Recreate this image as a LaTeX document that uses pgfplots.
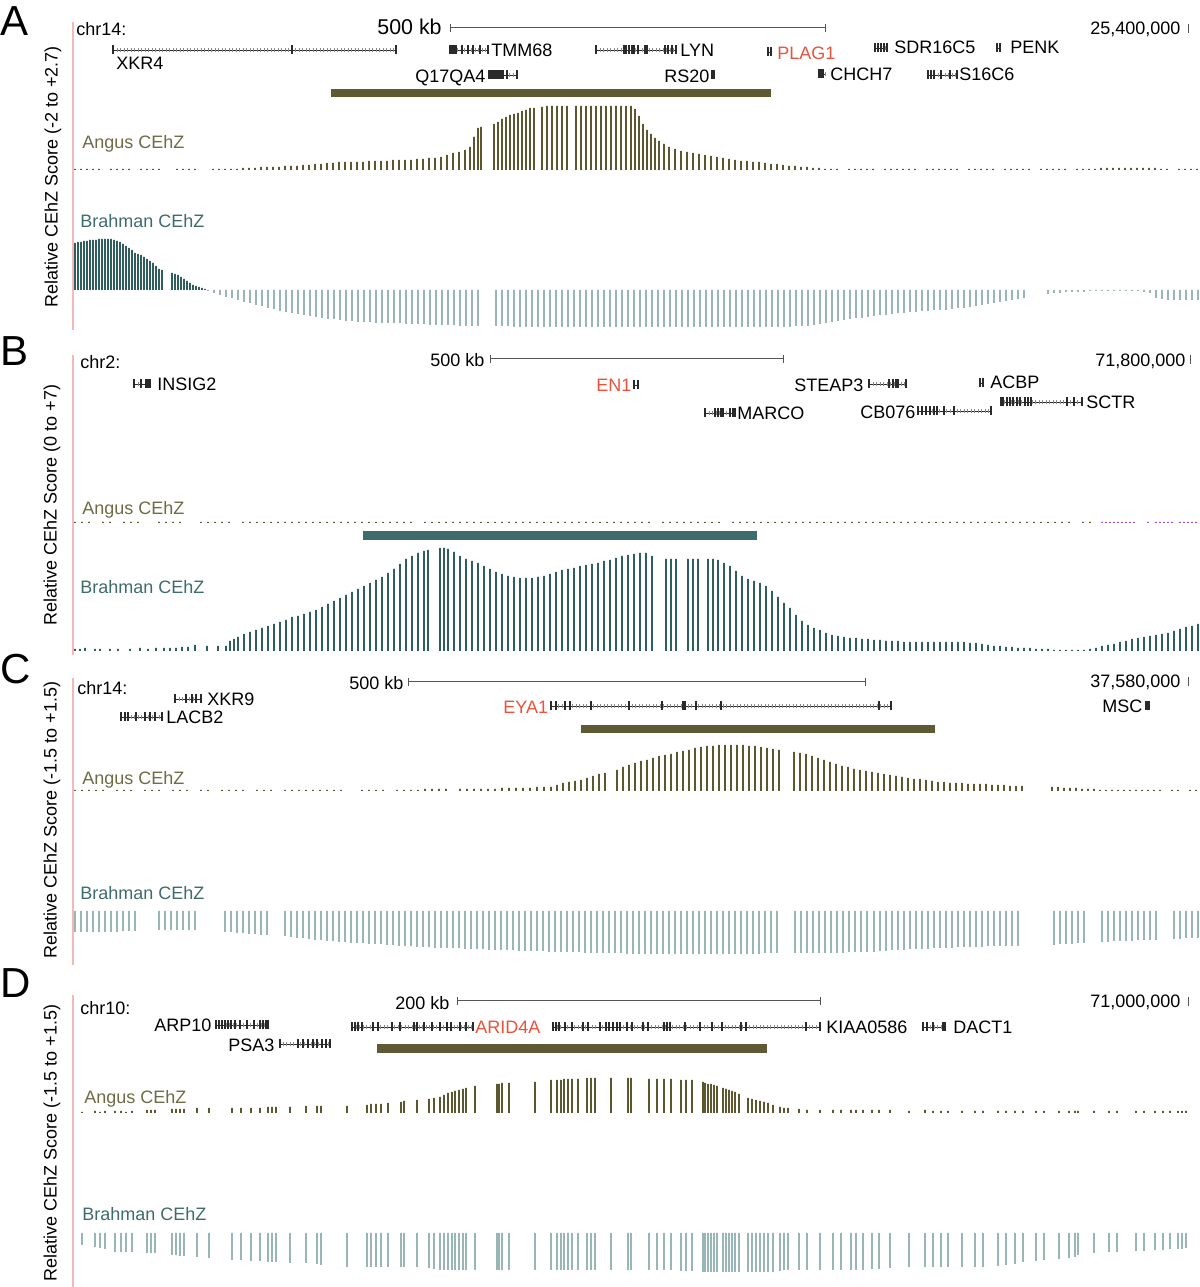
\documentclass[border=0pt]{standalone}
\usepackage{pgfplots}
\pgfplotsset{compat=1.18}
\usepackage{fontspec}
\setmainfont{Liberation Sans}
\definecolor{ang}{HTML}{5C572F}
\definecolor{angt}{HTML}{6E6B45}
\definecolor{angbar}{HTML}{5E5A33}
\definecolor{bra}{HTML}{3E6C6C}
\definecolor{brab}{HTML}{2F5E5E}
\definecolor{bral}{HTML}{98B6B6}
\definecolor{redt}{HTML}{E8533A}
\definecolor{pinkl}{HTML}{F5B8B8}
\definecolor{gc}{HTML}{2A2A2A}
\definecolor{purp}{HTML}{A050C0}
\pgfplotsset{
  trk/.style={at={(0pt,0pt)}, anchor=south west, scale only axis, width=600pt, height=643.5pt,
    xmin=0, xmax=1200, hide axis, clip=false},
  bars/.style={ybar, bar width=0.85pt, bar shift=0pt, draw=none, fill=#1}
}
\newcommand\fs{\fontsize{9pt}{10pt}\selectfont}
\newcommand\tx[4][]{\node[anchor=base west, inner sep=0pt, font=\fs, #1] at (#2,#3) {#4};}
\newcommand\gene[4]{%
  \draw[gc, line width=0.3pt] (#1,#3) -- (#2,#3);
  \draw[gc!55, line width=1.6pt, dash pattern=on 0.25pt off 1.5pt] (#1,#3) -- (#2,#3);
  \foreach \e in {#4} {\draw[gc, line width=0.6pt] (\e,#3-4.5) -- (\e,#3+4.5);}
}
\newcommand\scalebar[3]{\draw[gc!80, line width=0.5pt] (#1,#3) -- (#2,#3) (#1,#3-4) -- (#1,#3+4) (#2,#3-4) -- (#2,#3+4);}
\begin{document}
\begin{tikzpicture}
% ---------------- Panel A : Angus (baseline 170 px) ----------------
\begin{axis}[trk, ymin=-1117, ymax=170]
\addplot[bars=ang] coordinates {(75,1)(81,1)(87,1)(93,1)(99,1)(111,1)(117,1)(123,1)(129,1)(141,1)(147,1)(153,1)(159,1)(177,1)(183,1)(189,1)(195,1)(213,1)(219,1)(225,1)(231,1)(237,1)(243,2)(249,2)(255,2)(261,3)(267,3)(273,3)(279,3)(285,4)(291,4)(297,4)(303,5)(309,5)(315,6)(321,6)(327,7)(333,7)(339,8)(345,8)(351,8)(357,8)(363,8)(369,9)(375,9)(381,9)(387,9)(393,10)(399,10)(405,10)(411,10)(417,11)(423,11)(429,12)(435,12)(441,13)(447,15)(453,17)(459,18)(465,20)(470,23)(474,33)(478,42)(481,43)(494,46)(498,48)(502,51)(506,53)(510,55)(514,56)(518,57)(522,59)(526,60)(530,62)(534,62)(542,63)(547,64)(552,64)(557,64)(562,64)(567,64)(576,64)(581,64)(586,64)(591,64)(596,64)(601,64)(606,64)(611,64)(616,64)(621,64)(626,64)(631,64)(635,61)(639,54)(643,46)(647,40)(651,36)(655,32)(659,29)(664,26)(669,23)(675,21)(681,19)(687,18)(693,17)(699,16)(705,15)(711,14)(717,13)(723,12)(729,11)(735,10)(741,9)(747,9)(753,8)(759,8)(765,7)(771,6)(777,6)(783,5)(789,4)(795,4)(801,3)(807,3)(813,2)(819,2)(825,1)(831,1)(837,1)(849,1)(855,1)(861,1)(867,1)(873,1)(885,1)(891,1)(897,1)(903,1)(909,1)(915,1)(927,1)(933,1)(939,1)(945,1)(951,1)(957,1)(969,1)(975,1)(981,1)(987,1)(993,1)(1005,1)(1011,1)(1017,1)(1023,1)(1029,1)(1041,1)(1047,1)(1053,1)(1059,1)(1065,1)(1077,1)(1083,1)(1089,1)(1095,1)(1101,2)(1107,2)(1113,2)(1119,2)(1125,2)(1131,2)(1137,2)(1143,2)(1149,2)(1155,2)(1161,1)(1167,1)(1179,1)(1185,1)(1191,1)(1197,1)};
\end{axis}
% ---------------- Panel A : Brahman (baseline 290 px) ----------------
\begin{axis}[trk, ymin=-997, ymax=290]
\addplot[bars=brab] coordinates {(75,47)(78,48)(81,48)(84,49)(87,49)(90,50)(93,50)(96,50)(99,51)(102,51)(105,51)(108,51)(111,51)(114,50)(117,49)(120,48)(123,46)(126,44)(129,42)(132,40)(135,37)(138,36)(141,35)(144,33)(147,31)(150,29)(153,27)(156,24)(159,21)(162,20)(172,17)(175,16)(178,15)(181,13)(184,11)(187,9)(190,7)(193,5)(196,4)(199,3)(202,2)(205,1)};
\addplot[bars=bral] coordinates {(208,-1)(214,-3)(220,-5)(226,-7)(232,-8)(238,-10)(244,-12)(250,-13)(256,-15)(262,-16)(268,-18)(274,-19)(280,-21)(286,-22)(292,-23)(298,-24)(304,-25)(310,-26)(316,-27)(322,-28)(328,-29)(334,-29)(340,-30)(346,-31)(352,-31)(358,-32)(364,-32)(370,-32)(376,-33)(382,-33)(388,-33)(394,-33)(400,-33)(406,-34)(412,-34)(418,-34)(424,-34)(430,-35)(436,-35)(442,-35)(448,-35)(454,-35)(460,-36)(466,-36)(472,-36)(478,-36)(496,-36)(502,-36)(508,-36)(514,-37)(520,-37)(526,-37)(532,-37)(538,-37)(544,-37)(550,-37)(556,-37)(562,-37)(568,-37)(574,-37)(580,-37)(586,-37)(592,-37)(598,-37)(604,-37)(610,-37)(616,-37)(622,-37)(628,-37)(634,-37)(640,-37)(646,-37)(652,-37)(658,-37)(664,-37)(670,-37)(676,-37)(682,-37)(688,-37)(694,-37)(700,-37)(706,-37)(712,-37)(718,-37)(724,-37)(730,-37)(736,-37)(742,-37)(748,-37)(754,-37)(760,-37)(766,-37)(772,-37)(778,-37)(784,-37)(790,-37)(796,-36)(802,-36)(808,-36)(814,-35)(820,-34)(826,-33)(832,-32)(838,-31)(844,-30)(850,-29)(856,-28)(862,-28)(868,-27)(874,-26)(880,-25)(886,-25)(892,-24)(898,-23)(904,-23)(910,-22)(916,-22)(922,-21)(928,-21)(934,-20)(940,-20)(946,-20)(952,-19)(958,-18)(964,-18)(970,-17)(976,-16)(982,-15)(988,-14)(994,-13)(1000,-12)(1006,-11)(1012,-10)(1018,-9)(1024,-8)(1048,-4)(1054,-3)(1060,-3)(1066,-2)(1072,-2)(1078,-2)(1084,-2)(1090,-1)(1096,-1)(1102,-1)(1108,-1)(1114,-1)(1120,-1)(1126,-1)(1132,-1)(1138,-1)(1144,-2)(1150,-3)(1156,-8)(1162,-9)(1168,-10)(1174,-10)(1180,-10)(1186,-10)(1192,-10)(1198,-10)};
\end{axis}
% ---------------- Panel B : Angus (baseline 523 px) ----------------
\begin{axis}[trk, ymin=-764, ymax=523]
\addplot[bars=ang] coordinates {(75,1)(82,1)(89,1)(103,1)(110,1)(124,1)(131,1)(138,1)(159,1)(166,1)(173,1)(180,1)(201,1)(208,1)(215,1)(222,1)(229,1)(243,1)(250,1)(257,1)(264,1)(271,1)(278,1)(285,1)(292,1)(299,1)(306,1)(313,1)(320,1)(327,1)(334,1)(341,1)(348,1)(355,1)(362,1)(369,1)(376,1)(383,1)(390,1)(397,1)(404,1)(411,1)(425,1)(432,1)(439,1)(446,1)(453,1)(460,1)(467,1)(474,1)(481,1)(488,1)(495,1)(502,1)(509,1)(516,1)(523,1)(530,1)(537,1)(544,1)(551,1)(558,1)(565,1)(572,1)(579,1)(586,1)(593,1)(600,1)(607,1)(614,1)(621,1)(628,1)(635,1)(642,1)(649,1)(663,1)(670,1)(677,1)(684,1)(691,1)(698,1)(705,1)(712,1)(719,1)(733,1)(740,1)(747,1)(754,1)(761,1)(768,1)(775,1)(782,1)(789,1)(796,1)(803,1)(810,1)(817,1)(824,1)(831,1)(838,1)(845,1)(852,1)(859,1)(866,1)(873,1)(880,1)(887,1)(894,1)(901,1)(908,1)(915,1)(922,1)(929,1)(936,1)(943,1)(950,1)(957,1)(964,1)(971,1)(978,1)(985,1)(992,1)(999,1)(1006,1)(1013,1)(1020,1)(1027,1)(1034,1)(1041,1)(1048,1)(1055,1)(1062,1)(1069,1)(1083,1)(1090,1)};
\addplot[bars=purp] coordinates {(1102,1)(1106,1)(1110,1)(1114,1)(1118,1)(1122,1)(1126,1)(1130,1)(1134,1)(1148,1)(1156,1)(1160,1)(1164,1)(1168,1)(1172,1)(1180,1)(1184,1)(1188,1)(1192,1)(1196,1)};
\end{axis}
% ---------------- Panel B : Brahman (baseline 651 px) ----------------
\begin{axis}[trk, ymin=-636, ymax=651]
\addplot[bars=brab] coordinates {(75,2)(80,2)(85,3)(95,2)(100,2)(110,2)(118,2)(130,2)(140,3)(148,2)(156,3)(164,3)(170,3)(176,3)(182,4)(188,4)(195,6)(207,5)(218,5)(226,5)(230,10)(234,12)(238,14)(244,17)(250,19)(256,21)(262,23)(268,25)(274,27)(280,29)(286,31)(292,34)(298,35)(304,37)(310,39)(316,41)(322,44)(328,47)(334,50)(340,53)(346,56)(352,59)(358,62)(364,65)(370,68)(376,71)(382,74)(388,78)(394,82)(400,87)(406,92)(412,95)(418,98)(424,100)(428,101)(440,103)(444,103)(448,102)(454,99)(460,95)(466,92)(472,90)(478,88)(484,85)(490,82)(496,79)(502,77)(508,75)(514,74)(520,73)(526,73)(532,73)(538,74)(544,75)(550,77)(556,79)(562,81)(568,82)(574,83)(580,85)(586,86)(592,87)(598,88)(604,90)(610,91)(616,93)(622,95)(628,96)(634,97)(640,98)(646,98)(652,95)(666,92)(671,92)(676,92)(688,92)(693,92)(698,92)(708,92)(713,92)(718,91)(724,88)(730,85)(736,80)(742,75)(748,72)(754,70)(760,68)(766,65)(772,60)(778,54)(784,48)(790,43)(796,36)(802,30)(808,26)(814,23)(820,21)(826,18)(832,16)(838,15)(844,14)(850,13)(856,13)(862,12)(868,12)(874,11)(880,11)(886,10)(892,10)(898,10)(904,9)(910,9)(916,9)(922,9)(928,9)(934,9)(940,9)(946,9)(952,9)(958,9)(964,9)(970,8)(976,8)(982,7)(988,6)(994,5)(1000,5)(1006,4)(1012,4)(1018,3)(1024,3)(1030,3)(1036,2)(1042,2)(1048,2)(1054,1)(1060,1)(1066,1)(1072,1)(1078,1)(1084,1)(1090,2)(1096,3)(1102,5)(1108,6)(1114,7)(1120,9)(1126,10)(1132,12)(1138,13)(1144,14)(1150,15)(1156,16)(1162,17)(1168,18)(1174,20)(1180,22)(1186,24)(1192,25)(1198,27)};
\end{axis}
% ---------------- Panel C : Angus (baseline 791 px) ----------------
\begin{axis}[trk, ymin=-496, ymax=791]
\addplot[bars=ang] coordinates {(75,1)(82,1)(89,1)(96,1)(103,1)(117,1)(124,1)(131,1)(145,1)(152,1)(159,1)(173,1)(180,1)(187,1)(201,1)(208,1)(222,1)(229,1)(236,1)(243,1)(257,1)(264,1)(271,1)(285,1)(292,1)(299,1)(306,1)(313,1)(320,1)(327,1)(334,1)(341,1)(362,1)(369,1)(376,1)(383,1)(397,1)(404,1)(411,1)(418,1)(425,2)(432,2)(439,2)(446,2)(460,2)(467,2)(474,2)(481,2)(488,2)(495,2)(502,3)(509,3)(516,3)(523,3)(530,3)(537,4)(544,4)(551,4)(557,6)(563,8)(569,9)(575,10)(581,11)(587,13)(593,15)(599,17)(605,18)(617,21)(623,24)(629,26)(635,28)(641,30)(647,31)(653,33)(659,35)(665,36)(671,37)(677,39)(683,40)(689,41)(695,43)(701,44)(707,45)(713,45)(719,46)(725,46)(731,46)(737,46)(743,46)(749,45)(755,45)(761,44)(767,43)(773,42)(779,41)(794,39)(800,38)(806,37)(812,35)(818,33)(824,31)(830,29)(836,27)(842,25)(848,24)(854,22)(860,21)(866,20)(872,19)(878,18)(884,17)(890,16)(896,15)(902,14)(908,13)(914,12)(920,12)(926,11)(932,10)(938,9)(944,9)(950,8)(956,8)(962,8)(968,7)(974,7)(980,7)(986,7)(992,6)(998,6)(1004,6)(1010,5)(1016,5)(1022,5)(1052,4)(1058,4)(1064,3)(1070,3)(1076,3)(1082,2)(1088,2)(1094,2)(1100,1)(1106,1)(1112,1)(1118,1)(1124,1)(1130,1)(1136,1)(1142,1)(1148,1)(1154,1)(1160,1)(1172,1)(1178,1)(1190,1)(1196,1)};
\end{axis}
% ---------------- Panel C : Brahman (baseline 911 px) ----------------
\begin{axis}[trk, ymin=-376, ymax=911]
\addplot[bars=bral] coordinates {(75,-21)(81,-21)(87,-21)(93,-21)(99,-21)(105,-21)(111,-21)(117,-21)(123,-20)(129,-20)(135,-20)(159,-19)(165,-19)(171,-19)(177,-19)(183,-19)(189,-19)(195,-19)(225,-21)(231,-21)(237,-22)(243,-22)(249,-23)(255,-23)(261,-24)(267,-24)(285,-25)(291,-26)(297,-27)(303,-27)(309,-28)(315,-29)(321,-29)(327,-30)(333,-30)(339,-31)(345,-31)(351,-32)(357,-32)(363,-32)(369,-33)(375,-33)(381,-33)(387,-34)(393,-34)(399,-35)(405,-35)(411,-35)(417,-36)(423,-36)(429,-36)(435,-37)(441,-37)(447,-37)(453,-37)(459,-37)(465,-38)(471,-38)(477,-38)(483,-38)(489,-39)(495,-39)(501,-39)(507,-39)(513,-39)(519,-40)(525,-40)(531,-40)(537,-40)(543,-40)(549,-41)(555,-41)(561,-41)(567,-41)(573,-41)(579,-41)(585,-42)(591,-42)(597,-42)(603,-42)(609,-42)(615,-42)(621,-42)(627,-43)(633,-43)(639,-43)(645,-43)(651,-43)(657,-43)(663,-43)(669,-43)(675,-43)(681,-43)(687,-43)(693,-43)(699,-43)(705,-43)(711,-43)(717,-43)(723,-43)(729,-43)(735,-43)(741,-43)(747,-43)(753,-43)(759,-43)(765,-42)(771,-42)(777,-42)(795,-42)(801,-42)(807,-42)(813,-42)(819,-42)(825,-42)(831,-42)(837,-42)(843,-42)(849,-41)(855,-41)(861,-41)(867,-41)(874,-41)(880,-40)(886,-40)(892,-39)(898,-39)(904,-39)(910,-38)(916,-38)(922,-38)(928,-38)(934,-37)(940,-37)(946,-37)(952,-37)(958,-36)(964,-36)(970,-36)(976,-36)(982,-36)(988,-35)(994,-35)(1000,-35)(1006,-35)(1012,-35)(1018,-35)(1054,-34)(1060,-33)(1066,-33)(1072,-33)(1078,-32)(1084,-32)(1102,-31)(1108,-31)(1114,-30)(1120,-30)(1126,-30)(1132,-30)(1138,-29)(1144,-29)(1150,-29)(1156,-29)(1174,-28)(1180,-28)(1186,-27)(1192,-27)(1198,-27)};
\end{axis}
% ---------------- Panel D : Angus (baseline 1113 px) ----------------
\begin{axis}[trk, ymin=-174, ymax=1113]
\addplot[bars=ang] coordinates {(82,1)(95,2)(100,1)(105,2)(115,2)(121,2)(126,1)(132,2)(147,3)(151,3)(155,3)(172,4)(176,4)(180,4)(184,4)(197,5)(209,5)(232,5)(241,5)(251,5)(260,5)(268,6)(272,6)(276,6)(290,6)(306,7)(317,7)(321,7)(347,7)(367,8)(371,9)(376,9)(381,9)(388,10)(401,11)(404,12)(417,13)(429,14)(434,15)(440,16)(444,18)(448,20)(452,21)(455,22)(459,23)(463,24)(466,25)(475,27)(497,29)(499,29)(502,30)(509,30)(535,31)(551,33)(557,33)(561,33)(564,34)(568,34)(572,34)(578,34)(587,35)(591,35)(595,35)(611,35)(628,35)(631,35)(649,34)(657,34)(664,34)(671,34)(681,33)(686,33)(692,33)(703,31)(705,30)(708,29)(711,29)(714,28)(717,27)(723,25)(726,24)(729,23)(732,22)(735,21)(739,19)(748,15)(752,14)(756,13)(760,12)(764,11)(768,10)(773,8)(780,6)(784,5)(788,5)(799,4)(807,3)(820,3)(833,3)(841,3)(851,3)(856,3)(863,3)(872,3)(879,3)(890,3)(909,2)(925,3)(933,2)(941,2)(948,2)(962,2)(975,2)(983,2)(998,2)(1006,2)(1015,2)(1023,2)(1036,2)(1044,2)(1059,2)(1069,2)(1075,2)(1078,2)(1094,2)(1109,2)(1117,2)(1136,2)(1144,2)(1155,2)(1163,2)(1170,2)(1178,2)(1182,2)(1186,2)};
\end{axis}
% ---------------- Panel D : Brahman (baseline 1233 px) ----------------
\begin{axis}[trk, ymin=-54, ymax=1233]
\addplot[bars=bral] coordinates {(82,-12)(95,-14)(100,-15)(105,-16)(115,-19)(121,-19)(126,-19)(132,-19)(147,-20)(151,-20)(155,-20)(172,-22)(176,-22)(180,-23)(184,-23)(197,-24)(209,-25)(232,-27)(241,-27)(251,-28)(260,-28)(268,-29)(272,-29)(276,-29)(290,-30)(306,-30)(317,-31)(321,-32)(347,-34)(367,-34)(371,-34)(376,-34)(381,-34)(388,-34)(401,-34)(404,-34)(417,-34)(429,-35)(434,-36)(440,-37)(444,-37)(448,-37)(452,-37)(455,-37)(459,-37)(463,-37)(466,-37)(475,-37)(497,-37)(499,-37)(502,-37)(509,-37)(535,-37)(551,-37)(557,-37)(561,-37)(564,-37)(568,-37)(572,-37)(578,-37)(587,-37)(591,-37)(595,-37)(611,-37)(628,-37)(631,-37)(649,-37)(657,-37)(664,-37)(671,-37)(681,-38)(686,-38)(692,-38)(703,-39)(705,-39)(708,-39)(711,-39)(714,-39)(717,-39)(723,-39)(726,-39)(729,-39)(732,-39)(735,-39)(739,-39)(748,-39)(752,-39)(756,-39)(760,-39)(764,-39)(768,-39)(773,-39)(780,-38)(784,-37)(788,-37)(799,-37)(807,-37)(820,-37)(833,-37)(841,-37)(851,-37)(856,-37)(863,-37)(872,-36)(879,-36)(890,-35)(909,-34)(925,-34)(933,-34)(941,-34)(948,-34)(962,-34)(975,-34)(983,-34)(998,-33)(1006,-32)(1015,-31)(1023,-29)(1036,-28)(1044,-27)(1059,-26)(1069,-25)(1075,-24)(1078,-22)(1094,-20)(1109,-19)(1117,-19)(1136,-18)(1144,-18)(1155,-17)(1163,-17)(1170,-16)(1178,-16)(1182,-16)(1186,-15)};
\end{axis}
% ---------------- Annotations in pixel coordinates ----------------
\begin{scope}[x=0.5pt, y=-0.5pt, shift={(0pt,643.5pt)}]
% left pink axis lines
\draw[pinkl, line width=0.6pt] (73,22) -- (73,330);
\draw[pinkl, line width=0.6pt] (73,355) -- (73,655);
\draw[pinkl, line width=0.6pt] (73,678) -- (73,965);
\draw[pinkl, line width=0.6pt] (73,995) -- (73,1287);
% panel letters
\node[anchor=base west, inner sep=0pt, font=\fontsize{21pt}{23pt}\selectfont] at (0,36) {A};
\node[anchor=base west, inner sep=0pt, font=\fontsize{21pt}{23pt}\selectfont] at (0,366) {B};
\node[anchor=base west, inner sep=0pt, font=\fontsize{21pt}{23pt}\selectfont] at (0,684) {C};
\node[anchor=base west, inner sep=0pt, font=\fontsize{21pt}{23pt}\selectfont] at (0,998) {D};
% y labels
\node[rotate=90, inner sep=0pt, font=\fs] at (53,177) {Relative CEhZ Score (-2 to +2.7)};
\node[rotate=90, inner sep=0pt, font=\fs] at (52,505) {Relative CEhZ Score (0 to +7)};
\node[rotate=90, inner sep=0pt, font=\fs] at (52,820) {Relative CEhZ Score (-1.5 to +1.5)};
\node[rotate=90, inner sep=0pt, font=\fs] at (52,1143) {Relative CEhZ Score (-1.5 to +1.5)};
% ===== Panel A =====
\tx{76}{36}{chr14:}
\node[anchor=base west, inner sep=0pt, font=\fontsize{10.7pt}{12pt}\selectfont] at (377,35) {500 kb};
\scalebar{450}{825}{28}
\tx{1090}{34.5}{25,400,000}
\draw[gc!80, line width=0.5pt] (1188,24) -- (1188,33);
\gene{113}{396}{50}{113,292,396}
\tx{116}{70}{XKR4}
\gene{450}{488}{50}{450,452,454,456,462,468,473,480,488}
\tx{491}{56.5}{TMM68}
\gene{596}{676}{50}{596,624,626,629,632,634,638,645,647,665,668,672,676}
\tx{680}{56.5}{LYN}
\gene{768}{771}{52}{768,771}
\tx[text=redt]{777}{60}{PLAG1}
\gene{874}{888}{48}{875,878,881,884,887}
\tx{894}{54}{SDR16C5}
\gene{996}{1001}{48}{997,1000}
\tx{1010}{54}{PENK}
\tx{415}{82.5}{Q17QA4}
\gene{488}{517}{75}{489,491,493,495,497,499,501,503,507,517}
\tx{664}{82.5}{RS20}
\gene{712}{714}{75}{712,713,714}
\gene{818}{826}{74}{819,821,823}
\tx{830}{81}{CHCH7}
\gene{927}{957}{75}{928,931,934,941,950,957}
\tx{959}{81}{S16C6}
\fill[angbar] (331,89) rectangle (771,97);
\tx[text=angt]{82}{148.5}{Angus CEhZ}
\tx[text=bra]{80}{227.5}{Brahman CEhZ}
% ===== Panel B =====
\tx{80}{369}{chr2:}
\tx{430}{366.5}{500 kb}
\scalebar{490}{783}{359}
\tx{1095}{366.5}{71,800,000}
\draw[gc!80, line width=0.5pt] (1190,355) -- (1190,364);
\gene{134}{151}{384}{134,141,146,148,150}
\tx{157}{390.5}{INSIG2}
\tx[text=redt]{596}{391.5}{EN1}
\gene{634}{638}{385}{634,638}
\tx{794}{392}{STEAP3}
\gene{869}{906}{384}{869,889,893,896,898,906}
\gene{979}{984}{383}{980,983}
\tx{990}{389}{ACBP}
\gene{705}{735}{413}{705,715,718,721,723,730,733,735}
\tx{737}{420}{MARCO}
\tx{860}{419}{CB076}
\gene{918}{991}{411}{918,922,926,930,934,937,944,954,991}
\gene{1000}{1082}{402}{1001,1003,1007,1010,1013,1017,1020,1025,1028,1031,1067,1074,1082}
\tx{1086}{408.5}{SCTR}
\fill[bra] (363,531) rectangle (757,540);
\tx[text=angt]{82}{514.5}{Angus CEhZ}
\tx[text=bra]{80}{593.5}{Brahman CEhZ}
% ===== Panel C =====
\tx{77}{694.5}{chr14:}
\tx{349}{689.5}{500 kb}
\scalebar{408}{865}{682}
\tx{1090}{687.5}{37,580,000}
\draw[gc!80, line width=0.5pt] (1188,677) -- (1188,686);
\gene{175}{201}{699}{175,186,192,196,201}
\tx{207}{705.5}{XKR9}
\gene{120}{162}{717}{121,125,128,136,145,150,155,162}
\tx{166}{723.5}{LACB2}
\tx[text=redt]{503}{713.5}{EYA1}
\gene{551}{891}{706}{551,556,565,570,591,629,662,683,685,696,721,879,891}
\tx{1102}{712.5}{MSC}
\gene{1146}{1149}{706}{1146,1147,1148,1149}
\fill[angbar] (581,725) rectangle (935,733);
\tx[text=angt]{82}{784.5}{Angus CEhZ}
\tx[text=bra]{80}{899.5}{Brahman CEhZ}
% ===== Panel D =====
\tx{80}{1014.5}{chr10:}
\tx{395}{1009.5}{200 kb}
\scalebar{457}{820}{1001}
\tx{1090}{1007.5}{71,000,000}
\draw[gc!80, line width=0.5pt] (1188,997) -- (1188,1006);
\tx{154}{1031.5}{ARP10}
\gene{215}{268}{1025}{216,219,222,225,228,231,235,240,247,254,260,263,266,268}
\tx{228}{1051.5}{PSA3}
\gene{279}{330}{1044}{280,298,303,308,313,317,322,326,330}
\gene{352}{473}{1027}{352,355,358,362,373,378,392,400,414,417,424,432,440,447,451,460,466,473}
\tx[text=redt]{475}{1033.5}{ARID4A}
\gene{553}{820}{1027}{553,556,559,565,572,583,588,600,606,609,613,617,620,627,632,643,648,664,667,670,685,700,712,722,741,746,806,820}
\tx{826}{1033.5}{KIAA0586}
\gene{923}{946}{1027}{923,927,933,943,945}
\tx{953}{1033.5}{DACT1}
\fill[angbar] (377,1044) rectangle (767,1053);
\tx[text=angt]{84}{1103.5}{Angus CEhZ}
\tx[text=bra]{82}{1220.5}{Brahman CEhZ}
\end{scope}
\pgfresetboundingbox
\useasboundingbox (0pt,0pt) rectangle (600pt,643.5pt);
\end{tikzpicture}
\end{document}
